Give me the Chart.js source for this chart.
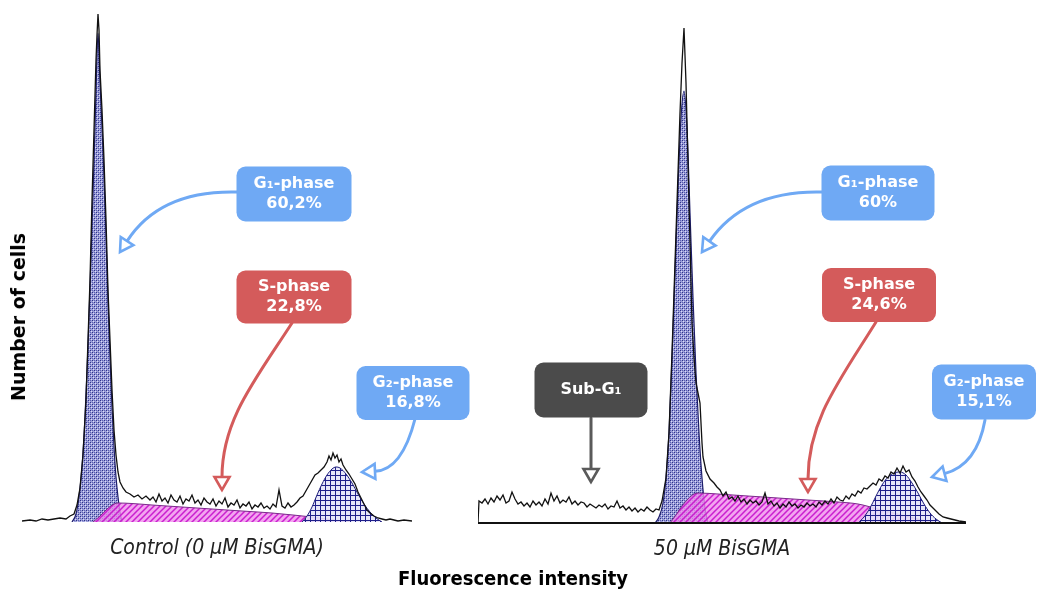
<!DOCTYPE html>
<html>
<head>
<meta charset="utf-8">
<script src="https://cdn.jsdelivr.net/npm/chart.js@4.4.1/dist/chart.umd.min.js"></script>
<style>
  body { margin: 0; background: #fff; width: 1037px; height: 589px; position: relative; overflow: hidden; }
  canvas { position: absolute; top: 0; }
  #c1 { left: 0; }
  #c2 { left: 470px; }
  .axis-title { position: absolute; font-weight: bold; color: #000; white-space: nowrap; }
  #ytitle { font-family: "DejaVu Sans", sans-serif; font-size: 19px; left: 18px; top: 317px; transform: translate(-50%, -50%) rotate(-90deg); }
  #xtitle { font-family: "DejaVu Sans Condensed", "DejaVu Sans", sans-serif; font-stretch: condensed; font-size: 20px; left: 513px; top: 578px; transform: translate(-50%, -50%); }
</style>
</head>
<body>
<canvas id="c1" width="470" height="570"></canvas>
<canvas id="c2" width="567" height="570"></canvas>
<div id="ytitle" class="axis-title">Number of cells</div>
<div id="xtitle" class="axis-title">Fluorescence intensity</div>
<script>
// ---- control (0 µM BisGMA) ----
const ctrlX = [
  0, 8, 14, 20, 26, 32, 38, 44, 48, 52,
  55, 58, 61, 64, 66, 68, 70, 72, 74, 75, 76, 77, 78, 80, 82, 84, 86, 88, 90, 92,
  94, 96, 98, 101, 104, 108, 112, 116, 120, 124,
  128, 131, 134, 137, 140, 143, 146, 149, 152, 155, 158, 161, 164, 167, 170, 173, 176,
  179, 182, 185, 188, 191, 194, 197, 200, 203, 206, 209, 212, 215, 218, 221, 224, 227,
  230, 233, 236, 239, 242, 245, 248, 251, 254, 257, 260, 263, 266, 269, 272, 275, 278,
  281, 285, 289, 293, 296, 299, 302, 305, 307, 309, 311, 313, 315, 317, 319, 321, 324,
  327, 330, 333, 336, 339, 342, 345, 348, 352, 356, 360, 364, 368, 372, 376, 382, 390
];
const ctrlCounts = [
  1, 2, 1, 3, 2, 3, 4, 3, 6, 8,
  17, 34, 67, 122, 182, 242, 322, 392, 462, 487, 508, 492, 452, 412, 362, 302, 232, 182, 132, 92,
  67, 50, 40, 34, 30, 28, 25, 27, 23, 26,
  22, 25, 20, 28, 21, 24, 19, 27, 22, 20, 26, 18, 23, 21, 27, 19, 22,
  17, 24, 20, 18, 23, 16, 21, 18, 24, 15, 19, 17, 22, 14, 18, 16, 20,
  13, 17, 15, 19, 14, 16, 13, 18, 15, 32, 16, 14, 19, 15, 17, 20, 24,
  26, 33, 40, 47, 49, 52, 55, 60, 66, 62, 69, 64, 67, 60, 63, 57, 52,
  48, 43, 38, 30, 24, 18, 12, 9, 6, 4, 3, 2, 3, 2, 1, 2, 1
];
const ctrlG1X = [50, 54, 57, 60, 63, 66, 69, 72, 74, 76, 78, 80, 82, 84, 86, 88, 90, 92, 94, 96, 98, 100];
const ctrlG1 = [0, 8, 25, 55, 105, 175, 265, 360, 430, 489, 440, 395, 345, 285, 220, 165, 115, 75, 45, 25, 10, 0];
const ctrlSX = [71, 78, 85, 92, 96, 110, 130, 160, 190, 220, 250, 271, 290, 305, 320, 330];
const ctrlS = [0, 6, 13, 18, 19, 18.5, 17, 15, 13, 11, 9, 7, 5, 3, 1, 0];
const ctrlG2X = [280, 285, 290, 295, 300, 305, 310, 314, 318, 324, 330, 336, 342, 348, 354, 360];
const ctrlG2 = [0, 6, 15, 27, 38, 47, 53, 55, 54, 48, 39, 28, 18, 10, 4, 0];

// ---- 50 µM BisGMA ----
const bisX = [
  0, 1, 4, 7, 10, 13, 16, 19, 22, 25, 28, 31, 34, 37, 40, 43, 46, 49, 52, 55, 58, 61,
  64, 67, 70, 73, 76, 79, 82, 85, 88, 91, 94, 97, 100, 103, 106, 109, 112, 115, 118, 121,
  124, 127, 130, 133, 136, 139, 142, 145, 148, 151, 154, 157, 160, 163, 166, 169, 172, 175, 178, 181,
  184, 188, 191, 194, 197, 200, 202, 204, 206, 208, 210, 212, 214, 216, 218, 220, 222, 224, 225, 228,
  232, 236, 239,
  242, 245, 248, 251, 254, 257, 260, 263, 266, 269, 272, 275, 278, 281, 284, 287, 290, 293, 296, 299,
  302, 305, 308, 311, 314, 317, 320, 323, 326, 329, 332, 335, 338, 341, 344, 347, 350, 353, 356, 359,
  362, 365, 368, 371, 374,
  377, 380, 383, 386, 389, 392, 395, 398, 401, 404, 407, 410, 413, 416, 419, 422, 425, 428, 431, 434,
  437, 440, 443, 446, 449, 452, 455, 458, 461, 465, 469, 473, 477, 481, 488
];
const bisCounts = [
  0, 22, 20, 24, 19, 25, 21, 27, 23, 28, 20, 22, 31, 24, 19, 21, 17, 20, 16, 22, 18, 21,
  17, 24, 19, 30, 22, 27, 20, 23, 21, 26, 19, 22, 18, 21, 20, 16, 19, 17, 15, 18,
  16, 19, 14, 17, 16, 22, 15, 17, 13, 16, 12, 15, 11, 14, 12, 16, 13, 11, 14, 13,
  22, 45, 90, 170, 260, 350, 410, 460, 495, 440, 360, 280, 200, 165, 140, 130, 120, 80, 66, 52,
  44, 40, 36,
  33, 27, 31, 24, 26, 22, 27, 21, 24, 19, 23, 20, 22, 18, 21, 30, 19, 22, 17, 20,
  15, 19, 16, 21, 17, 19, 15, 18, 16, 20, 17, 19, 16, 21, 18, 22, 19, 24, 20, 26,
  23, 22, 27, 24, 29,
  27, 32, 30, 35, 34, 37, 40, 38, 44, 42, 47, 45, 51, 49, 55, 50, 57, 51, 53, 46,
  42, 36, 31, 27, 23, 18, 15, 12, 9, 6, 5, 4, 3, 2, 1
];
const bisG1X = [177, 181, 185, 188, 191, 194, 197, 200, 203, 206, 209, 212, 215, 218, 221, 224, 227, 230];
const bisG1 = [0, 6, 20, 45, 90, 165, 250, 335, 405, 432, 395, 310, 225, 150, 90, 45, 15, 0];
const bisSX = [192, 198, 204, 210, 216, 220, 240, 270, 300, 330, 360, 380, 400, 420, 440, 455, 460];
const bisS = [0, 8, 17, 24, 29, 30, 29, 27, 25, 23, 21, 19, 14, 9, 4, 1, 0];
const bisG2X = [380, 386, 392, 398, 404, 410, 416, 422, 428, 434, 440, 446, 452, 458, 464];
const bisG2 = [0, 6, 15, 27, 38, 46, 50, 51, 48, 40, 30, 19, 10, 4, 0];

const BLUE = "#6fa9f4";
const RED = "#d45b5b";
const GRAY = "#4b4b4b";

const toXY = (xs, ys) => xs.map((x, i) => ({ x, y: ys[i] }));

// fill patterns
const makePattern = (ctx, size, paint) => {
  const tile = document.createElement("canvas");
  tile.width = size;
  tile.height = size;
  paint(tile.getContext("2d"), size);
  return ctx.createPattern(tile, "repeat");
};
const dotPattern = (ctx) => makePattern(ctx, 4, (g) => {
  g.fillStyle = "rgba(150,153,215,0.95)";
  g.fillRect(0, 0, 4, 4);
  g.fillStyle = "#2e3288";
  g.fillRect(0, 0, 1, 1);
  g.fillRect(2, 2, 1, 1);
  g.fillStyle = "#5d61b4";
  g.fillRect(2, 0, 1, 1);
  g.fillRect(0, 2, 1, 1);
  g.fillStyle = "#dcdcf4";
  g.fillRect(1, 1, 1, 1);
  g.fillRect(3, 3, 1, 1);
});
const hatchPattern = (ctx) => makePattern(ctx, 6, (g) => {
  g.fillStyle = "rgba(240,140,236,0.8)";
  g.fillRect(0, 0, 6, 6);
  g.strokeStyle = "rgba(200,24,206,0.95)";
  g.lineWidth = 1.5;
  g.beginPath();
  g.moveTo(0, 6); g.lineTo(6, 0);
  g.moveTo(-1, 1); g.lineTo(1, -1);
  g.moveTo(5, 7); g.lineTo(7, 5);
  g.stroke();
});
const gridPattern = (ctx) => makePattern(ctx, 5, (g) => {
  g.fillStyle = "rgba(228,228,248,0.9)";
  g.fillRect(0, 0, 5, 5);
  g.fillStyle = "#20208a";
  g.fillRect(0, 0, 5, 1);
  g.fillRect(0, 0, 1, 5);
});

// callout boxes + arrows, anchored in data units
const callouts = {
  id: "callouts",
  afterDatasetsDraw(chart, args, opts) {
    const { ctx, scales: { x, y }, chartArea } = chart;
    const P = (p) => [x.getPixelForValue(p[0]), y.getPixelForValue(p[1])];
    ctx.save();
    if (opts.baseline) {
      ctx.strokeStyle = "#111";
      ctx.lineWidth = 2;
      ctx.beginPath();
      ctx.moveTo(chartArea.left, chartArea.bottom);
      ctx.lineTo(chartArea.right, chartArea.bottom);
      ctx.stroke();
    }
    for (const c of opts.items || []) {
      const pts = c.path.map(P);
      const tip = pts[pts.length - 1];
      const prev = pts[pts.length - 2];
      const ang = Math.atan2(tip[1] - prev[1], tip[0] - prev[0]);
      const L = 13, W = 7.5;
      const base = [tip[0] - L * Math.cos(ang), tip[1] - L * Math.sin(ang)];
      ctx.strokeStyle = c.arrow || c.color;
      ctx.lineWidth = 3;
      ctx.lineCap = "round";
      ctx.beginPath();
      ctx.moveTo(pts[0][0], pts[0][1]);
      if (pts.length === 2) ctx.lineTo(base[0], base[1]);
      else if (pts.length === 3) ctx.quadraticCurveTo(pts[1][0], pts[1][1], base[0], base[1]);
      else ctx.bezierCurveTo(pts[1][0], pts[1][1], pts[2][0], pts[2][1], base[0], base[1]);
      ctx.stroke();
      const nx = -Math.sin(ang), ny = Math.cos(ang);
      ctx.beginPath();
      ctx.moveTo(tip[0], tip[1]);
      ctx.lineTo(base[0] + nx * W, base[1] + ny * W);
      ctx.lineTo(base[0] - nx * W, base[1] - ny * W);
      ctx.closePath();
      ctx.fillStyle = "#fff";
      ctx.fill();
      ctx.lineWidth = 2.6;
      ctx.lineJoin = "miter";
      ctx.stroke();

      const [cx, cy] = P(c.at);
      const w = c.w, h = c.h;
      ctx.fillStyle = c.color;
      ctx.beginPath();
      ctx.roundRect(cx - w / 2, cy - h / 2, w, h, 9);
      ctx.fill();
      ctx.fillStyle = "#fff";
      ctx.font = "bold 16px 'DejaVu Sans'";
      ctx.textAlign = "center";
      ctx.textBaseline = "middle";
      if (c.lines.length === 1) {
        ctx.fillText(c.lines[0], cx, cy);
      } else {
        ctx.fillText(c.lines[0], cx, cy - 10);
        ctx.fillText(c.lines[1], cx, cy + 10);
      }
    }
    ctx.restore();
  },
};

const ctrlNotes = [
  { lines: ["G₁-phase", "60,2%"], color: BLUE, at: [272, 328], w: 115, h: 55, path: [[215, 330], [138, 332], [98, 270]] },
  { lines: ["S-phase", "22,8%"], color: RED, at: [272, 225], w: 115, h: 53, path: [[270, 199], [233, 142], [200, 102], [200, 32]] },
  { lines: ["G₂-phase", "16,8%"], color: BLUE, at: [391, 129], w: 113, h: 54, path: [[393, 103], [380, 52], [340, 50]] },
];
const bisNotes = [
  { lines: ["G₁-phase", "60%"], color: BLUE, at: [400, 330], w: 113, h: 55, path: [[344, 331], [267, 333], [224, 271]] },
  { lines: ["S-phase", "24,6%"], color: RED, at: [401, 228], w: 114, h: 54, path: [[398, 201], [362, 143], [330, 103], [330, 31]] },
  { lines: ["G₂-phase", "15,1%"], color: BLUE, at: [506, 131], w: 104, h: 55, path: [[507, 103], [499, 58], [454, 46]] },
  { lines: ["Sub-G₁"], color: GRAY, arrow: "#5a5a5a", at: [113, 133], w: 113, h: 55, path: [[113, 105], [113, 41]] },
];

const makeChart = (id, title, raw, g1, s, g2, xMax, yMax, pad, notes, baseline) => {
  const canvas = document.getElementById(id);
  const ctx = canvas.getContext("2d");
  return new Chart(ctx, {
    type: "line",
    data: {
      datasets: [
        { label: "Histogram", data: raw, borderColor: "#111", borderWidth: 1.3, fill: false, tension: 0, pointRadius: 0 },
        { label: "G2", data: g2, backgroundColor: gridPattern(ctx), borderColor: "#1d1d7a", borderWidth: 1, fill: "origin", cubicInterpolationMode: "monotone", pointRadius: 0 },
        { label: "S", data: s, backgroundColor: hatchPattern(ctx), borderColor: "#7a2a8a", borderWidth: 1, fill: "origin", cubicInterpolationMode: "monotone", pointRadius: 0 },
        { label: "G1", data: g1, backgroundColor: dotPattern(ctx), borderColor: "#1d1d6a", borderWidth: 1.2, fill: "origin", cubicInterpolationMode: "monotone", pointRadius: 0 },
      ],
    },
    options: {
      responsive: false,
      animation: false,
      events: [],
      layout: { padding: pad },
      scales: {
        x: { type: "linear", min: 0, max: xMax, display: false },
        y: { min: 0, max: yMax, display: false },
      },
      plugins: {
        legend: { display: false },
        tooltip: { enabled: false },
        title: {
          display: true,
          position: "bottom",
          text: title,
          color: "#222",
          padding: { top: 14.4, bottom: 6 },
          font: { family: "'DejaVu Sans Condensed', 'DejaVu Sans'", size: 21, style: "italic", weight: "normal", lineHeight: 1.2 },
        },
        callouts: { items: notes, baseline },
      },
    },
    plugins: [callouts],
  });
};

makeChart("c1", "Control (0 µM BisGMA)",
  toXY(ctrlX, ctrlCounts), toXY(ctrlG1X, ctrlG1), toXY(ctrlSX, ctrlS), toXY(ctrlG2X, ctrlG2),
  390, 508, { left: 22, right: 58, top: 14, bottom: 2.4 }, ctrlNotes, false);
makeChart("c2", "50 µM BisGMA",
  toXY(bisX, bisCounts), toXY(bisG1X, bisG1), toXY(bisSX, bisS), toXY(bisG2X, bisG2),
  488, 509, { left: 8, right: 71, top: 14, bottom: 1.4 }, bisNotes, true);
</script>
</body>
</html>
